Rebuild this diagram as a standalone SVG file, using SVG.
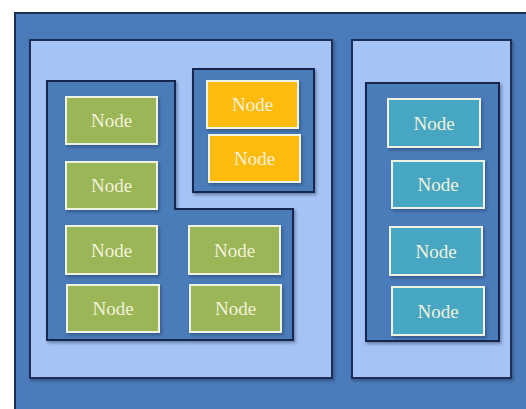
<svg xmlns="http://www.w3.org/2000/svg" width="526" height="409" viewBox="0 0 526 409">
<defs>
<filter id="sh" x="-10%" y="-10%" width="130%" height="130%"><feDropShadow dx="1.5" dy="2" stdDeviation="1.5" flood-color="#1a2a4a" flood-opacity="0.45"/></filter>
</defs>
<style>
.bg{fill:#4b7bba;stroke:#1d2f55;stroke-width:2}
.panel{fill:#a6c3f5;stroke:#1d2f55;stroke-width:2;filter:url(#sh)}
.cont{fill:#4b7bba;stroke:#14284d;stroke-width:2;filter:url(#sh)}
.n{stroke:#eef3e4;stroke-width:2;filter:url(#sh)}
.g{fill:#9bb657}
.o{fill:#fdbb10}
.t{fill:#47a6c1}
text{font-family:"Liberation Serif","Times New Roman",serif;font-size:19px;fill:#f2f2dc;text-anchor:middle;dominant-baseline:central}
</style>
<rect width="526" height="409" fill="#ffffff"/>
<rect class="bg" x="15" y="13" width="516" height="400"/>
<rect class="panel" x="30" y="40" width="302" height="338"/>
<rect class="panel" x="352" y="40" width="159" height="338"/>
<path class="cont" d="M47,81 H175 V209 H293 V340 H47 Z"/>
<rect class="cont" x="193" y="69" width="121" height="123"/>
<rect class="cont" x="366" y="83" width="133" height="258"/>
<g id="g1"><rect class="n g" x="66" y="97" width="91" height="47"/><text x="111.5" y="120.5">Node</text></g>
<g id="g2"><rect class="n g" x="66" y="162" width="91" height="47"/><text x="111.5" y="185.5">Node</text></g>
<g id="g3"><rect class="n g" x="66" y="226" width="91" height="48"/><text x="111.5" y="250">Node</text></g>
<g id="g4"><rect class="n g" x="67" y="285" width="92" height="47"/><text x="113" y="308.5">Node</text></g>
<g id="g5"><rect class="n g" x="189" y="226" width="91" height="48"/><text x="234.5" y="250">Node</text></g>
<g id="g6"><rect class="n g" x="190" y="285" width="91" height="47"/><text x="235.5" y="308.5">Node</text></g>
<g id="o1"><rect class="n o" x="207" y="81" width="91" height="47"/><text x="252.5" y="104.5">Node</text></g>
<g id="o2"><rect class="n o" x="209" y="135" width="91" height="47"/><text x="254.5" y="158.5">Node</text></g>
<g id="t1"><rect class="n t" x="388" y="99" width="92" height="48"/><text x="434" y="123">Node</text></g>
<g id="t2"><rect class="n t" x="392" y="161" width="92" height="47"/><text x="438" y="184.5">Node</text></g>
<g id="t3"><rect class="n t" x="390" y="227" width="92" height="48"/><text x="436" y="251">Node</text></g>
<g id="t4"><rect class="n t" x="392" y="287" width="92" height="48"/><text x="438" y="311">Node</text></g>
<g id="connectors"></g>
</svg>
